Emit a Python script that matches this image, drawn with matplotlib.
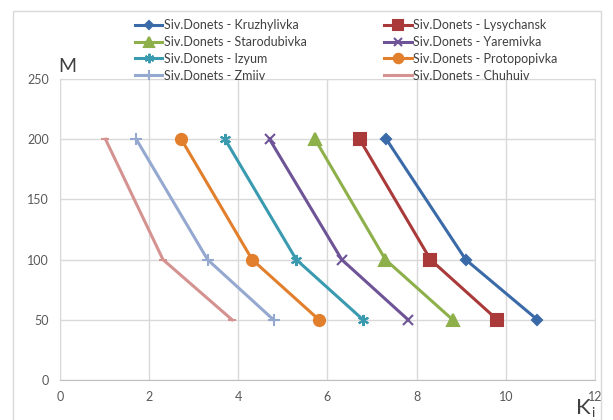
import matplotlib
matplotlib.use("Agg")
import matplotlib.pyplot as plt
from matplotlib.patches import Rectangle

plt.rcParams['font.family'] = ['Lato', 'DejaVu Sans']

M = [200, 100, 50]

names = ["Siv.Donets - Kruzhylivka", "Siv.Donets - Lysychansk",
         "Siv.Donets - Starodubivka", "Siv.Donets - Yaremivka",
         "Siv.Donets - Izyum", "Siv.Donets - Protopopivka",
         "Siv.Donets - Zmiiv", "Siv.Donets - Chuhuiv"]

kruzhylivka = [7.32, 9.10, 10.71]
lysychansk = [6.72, 8.31, 9.81]
starodubivka = [5.72, 7.30, 8.81]
yaremivka = [4.70, 6.32, 7.81]
izyum = [3.70, 5.30, 6.80]
protopopivka = [2.72, 4.31, 5.81]
zmiiv = [1.71, 3.31, 4.79]
chuhuiv = [1.02, 2.31, 3.86]

series = [kruzhylivka, lysychansk, starodubivka, yaremivka,
          izyum, protopopivka, zmiiv, chuhuiv]
colors = ['#3A6AA8', '#A93A39', '#8DB04A', '#6E5497',
          '#3A9AB0', '#E27F2C', '#94A8D0', '#D49290']
markers = ['D', 's', '^', 'x', (6, 2, 0), 'o', '+', '_']
msizes = [5, 8, 8, 7, 8, 8, 8, 6]

fig = plt.figure(figsize=(6.13, 4.20), dpi=100)
ax = fig.add_axes([0.0979, 0.0952, 0.8727, 0.7167])

handles = []
for k, (xs, name) in enumerate(zip(series, names)):
    h, = ax.plot(xs, M, color=colors[k], marker=markers[k], markersize=msizes[k],
                 markeredgewidth=1.5, linewidth=2.2, label=name, zorder=3)
    handles.append(h)

ax.set_xlim(0, 12)
ax.set_ylim(0, 250)
ax.set_xticks(range(0, 13, 2))
ax.set_yticks(range(0, 251, 50))
ax.grid(True, color='#D9D9D9', linewidth=1)
ax.set_axisbelow(True)
for s in ['top', 'left', 'right']:
    ax.spines[s].set_color('#D9D9D9')
ax.spines['bottom'].set_color('#BFBFBF')
ax.tick_params(length=0, labelsize=9, colors='#595959', pad=8)

# legend in row order like the original (two columns)
order = [0, 2, 4, 6, 1, 3, 5, 7]
leg = fig.legend([handles[i] for i in order], [names[i] for i in order],
                 loc='upper left', bbox_to_anchor=(0.212, 0.966), ncol=2,
                 frameon=False, fontsize=9, handlelength=2.2, handletextpad=0.1,
                 columnspacing=6.2, labelspacing=0.38, borderaxespad=0,
                 markerscale=0.85)
for t in leg.get_texts():
    t.set_color('#404040')

fig.text(67 / 613, 1 - 66 / 420, 'M', fontsize=14, color='#404040',
         ha='center', va='center')
fig.text(583 / 613, 1 - 408 / 420, 'K', fontsize=16, color='#404040',
         ha='center', va='center')
fig.text(593 / 613, 1 - 413 / 420, 'i', fontsize=10, color='#404040',
         ha='center', va='center')

fig.patches.append(Rectangle((13 / 613, -0.01), 588 / 613, 0.984,
                             transform=fig.transFigure, fill=False,
                             edgecolor='#D9D9D9', linewidth=1))

fig.savefig('out.png', dpi=100)
